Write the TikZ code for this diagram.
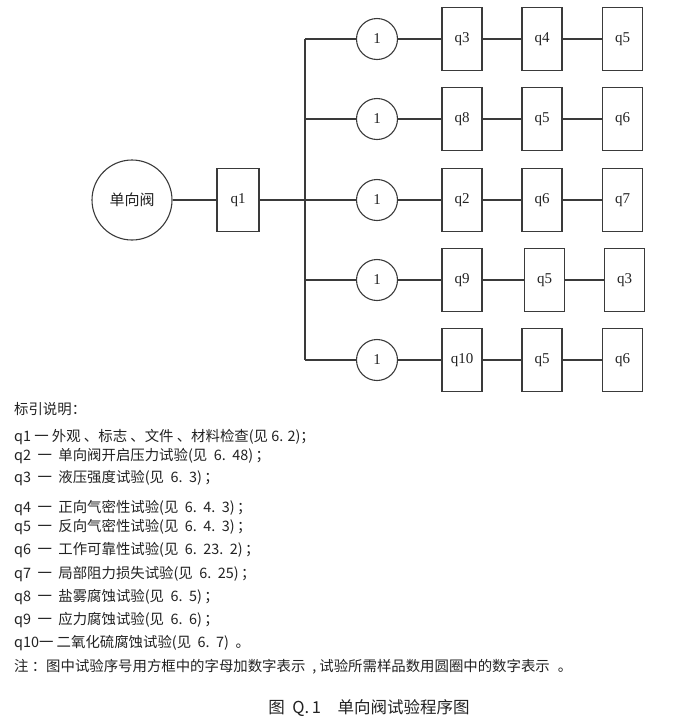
\documentclass[tikz,border=0pt]{standalone}
\usepackage{fontspec}
\setmainfont{Liberation Serif}
\newfontfamily\cjk{Noto Sans CJK SC}
\newcommand\gap{\hspace{6.5pt}}
\definecolor{linec}{HTML}{3A3A3A}
\definecolor{txtc}{HTML}{222222}
\tikzset{
  conn/.style={draw=linec, line width=1.1pt},
  testbox/.style={draw=linec, line width=1.1pt, minimum width=40pt, minimum height=63pt, inner sep=0pt, font=\fontsize{15}{15}\selectfont, text=txtc},
  samp/.style={circle, draw=linec, line width=1.1pt, minimum size=41pt, inner sep=0pt, font=\fontsize{15}{15}\selectfont, text=txtc},
  legend/.style={anchor=west, inner sep=0pt, font=\cjk\fontsize{14.4}{14}\selectfont, text=txtc}
}
\begin{document}
\begin{tikzpicture}[x=1pt,y=-1pt]
\useasboundingbox (0,0) rectangle (678,721);
% main
\node[circle, draw=linec, line width=1.1pt, minimum size=80pt, inner sep=0pt, font=\cjk\fontsize{15}{15}\selectfont, text=txtc] (valve) at (132,200) {单向阀};
\node[testbox, minimum width=42pt] (q1) at (238,200) {q1};
\coordinate (j) at (305,200);
\draw[conn] (valve) -- (q1);
\draw[conn] (q1) -- (j);
% bus
\coordinate (b1) at (305,39);
\coordinate (b2) at (305,119);
\coordinate (b3) at (305,200);
\coordinate (b4) at (305,280);
\coordinate (b5) at (305,360);
\draw[conn] (b1) -- (b5);
% row 1
\node[samp] (c1) at (377,39) {1};
\node[testbox] (r1a) at (462,39) {q3};
\node[testbox] (r1b) at (542,39) {q4};
\node[testbox] (r1c) at (622.5,39) {q5};
% row 2
\node[samp] (c2) at (377,119) {1};
\node[testbox] (r2a) at (462,119) {q8};
\node[testbox] (r2b) at (542,119) {q5};
\node[testbox] (r2c) at (622.5,119) {q6};
% row 3
\node[samp] (c3) at (377,200) {1};
\node[testbox] (r3a) at (462,200) {q2};
\node[testbox] (r3b) at (542,200) {q6};
\node[testbox] (r3c) at (622.5,200) {q7};
% row 4
\node[samp] (c4) at (377,280) {1};
\node[testbox] (r4a) at (462,280) {q9};
\node[testbox] (r4b) at (544.5,280) {q5};
\node[testbox] (r4c) at (624.5,280) {q3};
% row 5
\node[samp] (c5) at (377,360) {1};
\node[testbox] (r5a) at (462,360) {q10};
\node[testbox] (r5b) at (542,360) {q5};
\node[testbox] (r5c) at (622.5,360) {q6};
\foreach \i in {1,...,5}{
  \draw[conn] (b\i) -- (c\i);
  \draw[conn] (c\i) -- (r\i a);
  \draw[conn] (r\i a) -- (r\i b);
  \draw[conn] (r\i b) -- (r\i c);
}
% legend
\node[legend] (l0) at (14,409) {标引说明：};
\node[legend] (l1) at (14,437) {q1 一 外观 、标志 、文件 、材料检查(见 6. 2)；};
\node[legend] (l2) at (14,456) {q2\ \ 一\ \ 单向阀开启压力试验(见\gap 6.\gap 48)\,；};
\node[legend] (l3) at (14,478) {q3\ \ 一\ \ 液压强度试验(见\gap 6.\gap 3)\,；};
\node[legend] (l4) at (14,508) {q4\ \ 一\ \ 正向气密性试验(见\gap 6.\gap 4.\gap 3)\,；};
\node[legend] (l5) at (14,527) {q5\ \ 一\ \ 反向气密性试验(见\gap 6.\gap 4.\gap 3)\,；};
\node[legend] (l6) at (14,550) {q6\ \ 一\ \ 工作可靠性试验(见\gap 6.\gap 23.\gap 2)\,；};
\node[legend] (l7) at (14,574) {q7\ \ 一\ \ 局部阻力损失试验(见\gap 6.\gap 25)\,；};
\node[legend] (l8) at (14,597) {q8\ \ 一\ \ 盐雾腐蚀试验(见\gap 6.\gap 5)\,；};
\node[legend] (l9) at (14,620) {q9\ \ 一\ \ 应力腐蚀试验(见\gap 6.\gap 6)\,；};
\node[legend] (l10) at (14,643) {q10一\ 二氧化硫腐蚀试验(见\gap 6.\gap 7)\gap 。};
\node[legend] (note) at (14,667) {注\ ：图中试验序号用方框中的字母加数字表示\hspace{7pt},\hspace{3pt}试验所需样品数用圆圈中的数字表示\hspace{8pt}。};
\node[inner sep=0pt, font=\cjk\fontsize{16.5}{16.5}\selectfont, text=txtc] (cap) at (369,708) {图\ \ Q.\,1\quad 单向阀试验程序图};
\end{tikzpicture}
\end{document}
